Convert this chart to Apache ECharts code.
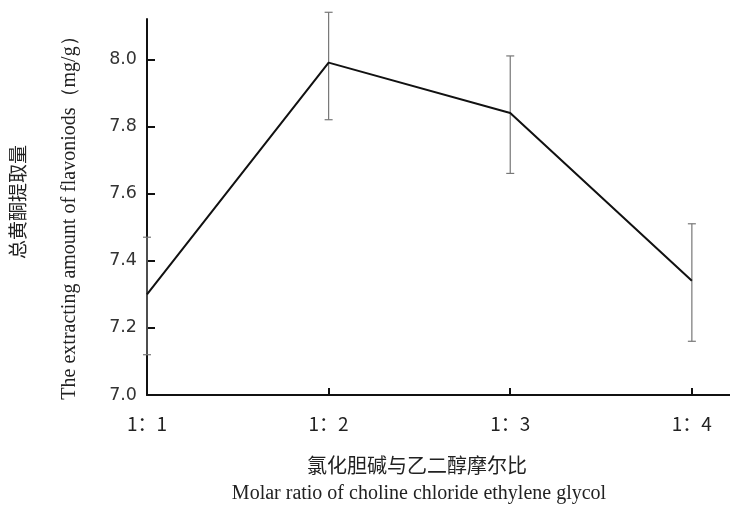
<!DOCTYPE html>
<html>
<head>
<meta charset="utf-8">
<script src="https://cdn.jsdelivr.net/npm/echarts@6/dist/echarts.min.js"></script>
<style>
  html, body { margin: 0; padding: 0; background: #fff; }
  #chart { width: 730px; height: 508px; }
</style>
</head>
<body>
<div id="chart"></div>
<script>
// Molar ratio of choline chloride to ethylene glycol
const categories = ['1：1', '1：2', '1：3', '1：4'];
// Mean flavonoid yield (mg/g) and error-bar bounds
const yieldMean = [7.30, 7.99, 7.84, 7.34];
const yieldLow  = [7.12, 7.82, 7.66, 7.16];
const yieldHigh = [7.47, 8.14, 8.01, 7.51];
const yTicks = [7.0, 7.2, 7.4, 7.6, 7.8, 8.0];

const linePoints = yieldMean.map((v, i) => [i + 1, v]);
const barPoints = yieldMean.map((v, i) => [i + 1, yieldLow[i], yieldHigh[i]]);

const chart = echarts.init(document.getElementById('chart'), null, { renderer: 'canvas' });

const serif = '"Liberation Serif", "DejaVu Serif", serif';
const cjk = '"Noto Sans CJK SC", sans-serif';

chart.setOption({
  animation: false,
  backgroundColor: '#ffffff',
  grid: { left: 147, right: 0, top: 19, bottom: 113 },
  xAxis: {
    type: 'value',
    min: 1,
    max: 4.21,
    interval: 1,
    axisLine: { show: true, lineStyle: { color: '#111', width: 2 } },
    axisTick: { show: true, inside: true, length: 7, lineStyle: { color: '#111', width: 2 } },
    splitLine: { show: false },
    axisLabel: {
      showMaxLabel: false,
      margin: 19,
      fontSize: 19,
      fontFamily: cjk,
      color: '#222',
      formatter: v => {
        const idx = Math.round(v) - 1;
        return Math.abs(v - Math.round(v)) < 1e-6 && categories[idx] ? categories[idx] : '';
      }
    }
  },
  yAxis: {
    type: 'value',
    min: yTicks[0],
    max: 8.12,
    interval: 0.2,
    axisLine: { show: true, lineStyle: { color: '#111', width: 2 } },
    axisTick: { show: true, inside: true, length: 8, lineStyle: { color: '#111', width: 2 } },
    splitLine: { show: false },
    axisLabel: {
      showMaxLabel: false,
      margin: 10,
      fontSize: 17.5,
      fontFamily: '"DejaVu Sans", sans-serif',
      color: '#333',
      formatter: v => v.toFixed(1)
    }
  },
  graphic: [
    {
      type: 'text', x: 18, y: 202, rotation: Math.PI / 2,
      style: { text: '总黄酮提取量', font: '19px ' + cjk, fill: '#222', align: 'center', verticalAlign: 'middle' }
    },
    {
      type: 'text', x: 70, y: 213, rotation: Math.PI / 2,
      style: { text: 'The extracting amount of flavoniods（mg/g）', font: '20px ' + serif, fill: '#222', align: 'center', verticalAlign: 'middle' }
    },
    {
      type: 'text', x: 417, y: 465,
      style: { text: '氯化胆碱与乙二醇摩尔比', font: '20px ' + cjk, fill: '#222', align: 'center', verticalAlign: 'middle' }
    },
    {
      type: 'text', x: 419, y: 494,
      style: { text: 'Molar ratio of choline chloride ethylene glycol', font: '20px ' + serif, fill: '#222', align: 'center', verticalAlign: 'middle' }
    }
  ],
  series: [
    {
      type: 'custom',
      name: 'error',
      data: barPoints,
      z: 2,
      renderItem: (params, api) => {
        const x = api.value(0);
        const lo = api.coord([x, api.value(1)]);
        const hi = api.coord([x, api.value(2)]);
        const half = 4;
        const style = { stroke: '#777', lineWidth: 1.2 };
        return {
          type: 'group',
          children: [
            { type: 'line', shape: { x1: lo[0], y1: lo[1], x2: hi[0], y2: hi[1] }, style },
            { type: 'line', shape: { x1: lo[0] - half, y1: lo[1], x2: lo[0] + half, y2: lo[1] }, style },
            { type: 'line', shape: { x1: hi[0] - half, y1: hi[1], x2: hi[0] + half, y2: hi[1] }, style }
          ]
        };
      }
    },
    {
      type: 'line',
      data: linePoints,
      z: 3,
      symbol: 'none',
      lineStyle: { color: '#111', width: 2 }
    }
  ]
});
</script>
</body>
</html>
